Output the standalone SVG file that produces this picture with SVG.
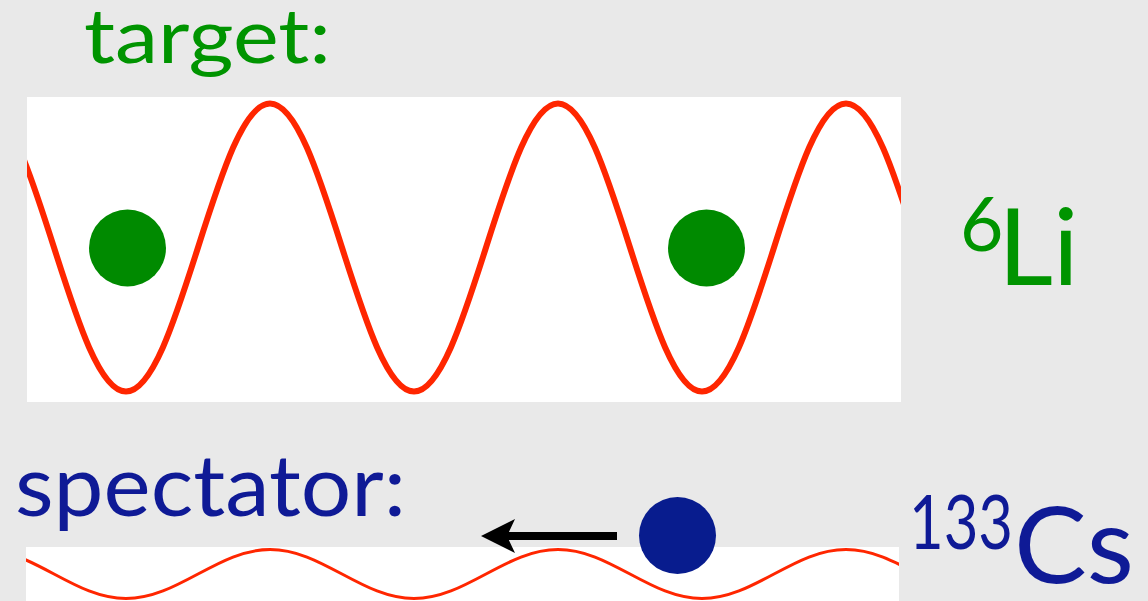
<svg xmlns="http://www.w3.org/2000/svg" width="1148" height="601" viewBox="0 0 1148 601">
  <style>
    .bg { fill: #e9e9e9; }
    .panel { fill: #ffffff; }
    .wave { fill: none; stroke: #ff2600; stroke-linejoin: round; }
    .lbl { font-family: Lato, "Open Sans", "DejaVu Sans", sans-serif; }
    .green { fill: #009400; }
    .blue { fill: #0f1a96; }
  </style>
  <defs>
    <clipPath id="clipTop"><rect x="27" y="97" width="874" height="305"/></clipPath>
    <clipPath id="clipBot"><rect x="26" y="547" width="873" height="54"/></clipPath>
    <marker id="head" markerUnits="userSpaceOnUse" markerWidth="36" markerHeight="36" viewBox="0 0 36 36" refX="8" refY="18" orient="auto">
      <path d="M 0 1 L 34 18 L 0 35 L 8 18 Z" fill="#000000"/>
    </marker>
  </defs>

  <rect class="bg" x="0" y="0" width="1148" height="601"/>

  <g id="target-lattice">
    <rect class="panel" x="27" y="97" width="874" height="305"/>
    <path class="wave" stroke-width="6" clip-path="url(#clipTop)" d="M -18 103.5
      c 26.06 0 48.52 70.2 72 144 c 23.48 73.8 45.94 144 72 144 c 26.06 0 48.52 -70.2 72 -144 c 23.48 -73.8 45.94 -144 72 -144
      c 26.06 0 48.52 70.2 72 144 c 23.48 73.8 45.94 144 72 144 c 26.06 0 48.52 -70.2 72 -144 c 23.48 -73.8 45.94 -144 72 -144
      c 26.06 0 48.52 70.2 72 144 c 23.48 73.8 45.94 144 72 144 c 26.06 0 48.52 -70.2 72 -144 c 23.48 -73.8 45.94 -144 72 -144
      c 26.06 0 48.52 70.2 72 144 c 23.48 73.8 45.94 144 72 144 c 26.06 0 48.52 -70.2 72 -144 c 23.48 -73.8 45.94 -144 72 -144"/>
  </g>

  <g id="spectator-lattice">
    <rect class="panel" x="26" y="547" width="873" height="54"/>
    <path class="wave" stroke-width="3" clip-path="url(#clipBot)" d="M -18 549.5
      c 26.06 0 48.52 11.95 72 24.5 c 23.48 12.55 45.94 24.5 72 24.5 c 26.06 0 48.52 -11.95 72 -24.5 c 23.48 -12.55 45.94 -24.5 72 -24.5
      c 26.06 0 48.52 11.95 72 24.5 c 23.48 12.55 45.94 24.5 72 24.5 c 26.06 0 48.52 -11.95 72 -24.5 c 23.48 -12.55 45.94 -24.5 72 -24.5
      c 26.06 0 48.52 11.95 72 24.5 c 23.48 12.55 45.94 24.5 72 24.5 c 26.06 0 48.52 -11.95 72 -24.5 c 23.48 -12.55 45.94 -24.5 72 -24.5
      c 26.06 0 48.52 11.95 72 24.5 c 23.48 12.55 45.94 24.5 72 24.5 c 26.06 0 48.52 -11.95 72 -24.5 c 23.48 -12.55 45.94 -24.5 72 -24.5"/>
  </g>

  <g id="li-atom-1"><circle cx="127.5" cy="248" r="38.5" fill="#008a00"/></g>
  <g id="li-atom-2"><circle cx="706.5" cy="248" r="38.5" fill="#008a00"/></g>
  <g id="cs-atom"><circle cx="677.5" cy="535.5" r="38.5" fill="#081c8e"/></g>

  <g id="connectors">
    <line x1="617" y1="536" x2="507" y2="536" stroke="#000000" stroke-width="8" marker-end="url(#head)"/>
  </g>

  <g id="label-target"><text class="lbl green" x="84" y="63" font-size="75" textLength="247" lengthAdjust="spacingAndGlyphs">target:</text></g>
  <g id="label-spectator"><text class="lbl blue" x="15" y="516" font-size="85" textLength="391" lengthAdjust="spacingAndGlyphs">spectator:</text></g>
  <g id="label-li">
    <text class="lbl green" font-size="107"><tspan x="960" y="251" font-size="75">6</tspan><tspan x="998" y="285">Li</tspan></text>
  </g>
  <g id="label-cs">
    <text class="lbl blue" font-size="107"><tspan x="909" y="549" font-size="75" textLength="104" lengthAdjust="spacingAndGlyphs">133</tspan><tspan x="1014" y="583" textLength="120" lengthAdjust="spacingAndGlyphs">Cs</tspan></text>
  </g>
</svg>
